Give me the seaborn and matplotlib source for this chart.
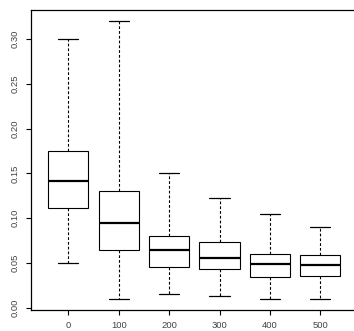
import numpy as np
import pandas as pd
import matplotlib
matplotlib.use("Agg")
import matplotlib.pyplot as plt
import seaborn as sns

# Five-number summaries per group (min, Q1, median, Q3, max)
groups = ["0", "100", "200", "300", "400", "500"]
lower = [0.050, 0.010, 0.015, 0.013, 0.010, 0.010]
q1 = [0.111, 0.065, 0.045, 0.043, 0.034, 0.035]
median = [0.142, 0.095, 0.065, 0.056, 0.049, 0.048]
q3 = [0.175, 0.130, 0.080, 0.073, 0.060, 0.059]
upper = [0.300, 0.320, 0.150, 0.123, 0.105, 0.090]

y_ticks = [0.00, 0.05, 0.10, 0.15, 0.20, 0.25, 0.30]
y_tick_labels = ["0.00", "0.05", "0.10", "0.15", "0.20", "0.25", "0.30"]

# With five values per group the quartiles fall exactly on Q1/median/Q3
rows = []
for g, a, b, c, d, e in zip(groups, lower, q1, median, q3, upper):
    for v in (a, b, c, d, e):
        rows.append({"group": g, "value": v})
df = pd.DataFrame(rows)

sns.set_style("white")
plt.rcParams["font.family"] = ["Liberation Sans", "DejaVu Sans"]

fig = plt.figure(figsize=(3.54, 3.31), dpi=100)
ax = fig.add_axes([0.0876, 0.0639, 0.9226, 0.9053])

sns.boxplot(
    data=df, x="group", y="value", order=groups, ax=ax,
    color="white", linecolor="black", linewidth=0.8, width=0.8,
    whis=np.inf, saturation=1,
    whiskerprops={"linestyle": (0, (2.5, 1.8)), "linewidth": 0.8},
    capprops={"linewidth": 0.9},
    medianprops={"linewidth": 1.6},
)

ax.set_xlim(-0.74, 5.74)
ax.set_ylim(-0.0024, 0.3324)
ax.set_yticks(y_ticks)
ax.set_yticklabels(y_tick_labels)
ax.set_xlabel("")
ax.set_ylabel("")

for lab in ax.get_yticklabels():
    lab.set_rotation(90)
    lab.set_va("center")
    lab.set_ha("right")

ax.tick_params(axis="both", which="major", length=3.8, width=0.8,
               color="black", labelsize=6.8, labelcolor="#444444",
               left=True, bottom=True)
ax.tick_params(axis="y", pad=4.5)
ax.tick_params(axis="x", pad=4.3)

for sp in ax.spines.values():
    sp.set_visible(True)
    sp.set_color("black")
    sp.set_linewidth(0.9)

fig.savefig("out.png", dpi=100)
